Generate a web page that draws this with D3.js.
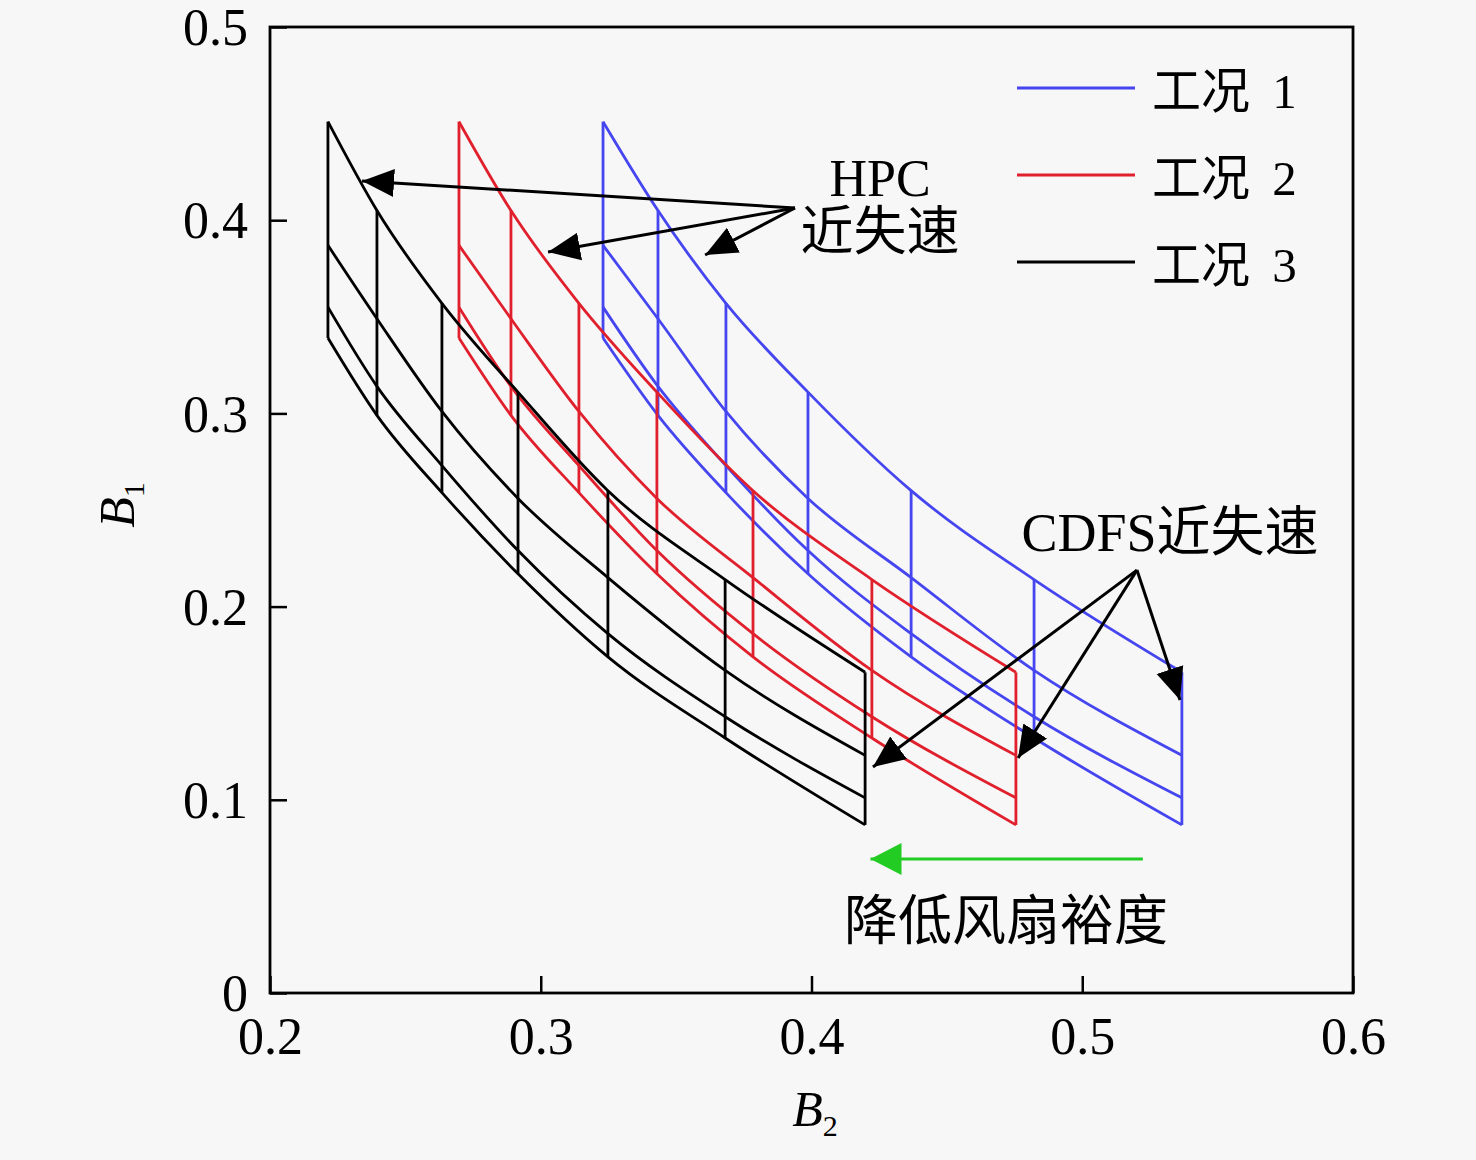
<!DOCTYPE html>
<html>
<head>
<meta charset="utf-8">
<script src="https://cdn.jsdelivr.net/npm/d3@7"></script>
<style>
  body { margin: 0; background: #f7f7f7; }
  svg { display: block; }
</style>
</head>
<body>
<div id="chart"></div>
<script>
// B2 positions of the constant lines, one array per operating condition
const b2Case1 = [0.3230, 0.3433, 0.3684, 0.3987, 0.4368, 0.4822, 0.5368];
const b2Case2 = [0.2698, 0.2890, 0.3141, 0.3429, 0.3784, 0.4223, 0.4755];
const b2Case3 = [0.2214, 0.2395, 0.2635, 0.2916, 0.3248, 0.3681, 0.4198];

// B1 along each of the four curves (same for all three conditions)
const b1Top    = [0.451, 0.405, 0.357, 0.311, 0.260, 0.214, 0.166];
const b1Second = [0.387, 0.349, 0.301, 0.256, 0.215, 0.167, 0.123];
const b1Third  = [0.355, 0.314, 0.273, 0.229, 0.186, 0.143, 0.101];
const b1Bottom = [0.339, 0.299, 0.259, 0.217, 0.174, 0.132, 0.087];

const caseNames = ["工况 1", "工况 2", "工况 3"];
const caseColors = ["#4646f0", "#e0202c", "#000000"];

const xTicks = [0.2, 0.3, 0.4, 0.5, 0.6];
const yTicks = [0, 0.1, 0.2, 0.3, 0.4, 0.5];

// annotation arrows in data units: [from B2, from B1, to B2, to B1]
const hpcArrows = [
  [0.3939, 0.4063, 0.2340, 0.4203],
  [0.3939, 0.4063, 0.3027, 0.3835],
  [0.3939, 0.4063, 0.3607, 0.3820]
];
const cdfsArrows = [
  [0.5202, 0.2189, 0.4227, 0.1170],
  [0.5202, 0.2189, 0.4763, 0.1216],
  [0.5202, 0.2189, 0.5361, 0.1517]
];
const fanArrow = [0.5224, 0.0694, 0.4218, 0.0694];

var width = 1476, height = 1160;
var plotLeft = 270, plotRight = 1353, plotTop = 27, plotBottom = 993;

var svg = d3.select("#chart").append("svg")
  .attr("width", width)
  .attr("height", height);

var x = d3.scaleLinear().domain([0.2, 0.6]).range([plotLeft, plotRight]);
var y = d3.scaleLinear().domain([0, 0.5]).range([plotBottom, plotTop]);

var serif = "'Liberation Serif', 'Times New Roman', 'Noto Sans CJK SC', serif";

var defs = svg.append("defs");
defs.append("marker")
  .attr("id", "head")
  .attr("markerUnits", "userSpaceOnUse")
  .attr("markerWidth", 34).attr("markerHeight", 30)
  .attr("refX", 32).attr("refY", 15)
  .attr("orient", "auto")
  .append("path").attr("d", "M0,1 L32,15 L0,29 Z").attr("fill", "#000");
defs.append("marker")
  .attr("id", "greenhead")
  .attr("markerUnits", "userSpaceOnUse")
  .attr("markerWidth", 34).attr("markerHeight", 34)
  .attr("refX", 31).attr("refY", 16)
  .attr("orient", "auto")
  .append("path").attr("d", "M0,0 L31,16 L0,32 Z").attr("fill", "#22cc22");

// grids: blue first, black on top
var cases = [b2Case1, b2Case2, b2Case3];
var curves = [b1Top, b1Second, b1Third, b1Bottom];
var line = d3.line().x(d => x(d[0])).y(d => y(d[1])).curve(d3.curveMonotoneX);

cases.forEach(function(b2, c) {
  var g = svg.append("g")
    .attr("fill", "none")
    .attr("stroke", caseColors[c])
    .attr("stroke-width", 2.8);

  g.selectAll("path.curve")
    .data(curves)
    .enter()
    .append("path")
    .attr("class", "curve")
    .attr("d", b1 => line(b2.map((v, i) => [v, b1[i]])));

  g.selectAll("line.const")
    .data(b2)
    .enter()
    .append("line")
    .attr("class", "const")
    .attr("x1", d => x(d)).attr("x2", d => x(d))
    .attr("y1", (d, i) => y(b1Top[i]))
    .attr("y2", (d, i) => y(b1Bottom[i]));
});

// frame and inward ticks
svg.append("rect")
  .attr("x", plotLeft).attr("y", plotTop)
  .attr("width", plotRight - plotLeft).attr("height", plotBottom - plotTop)
  .attr("fill", "none").attr("stroke", "#000").attr("stroke-width", 2.8);

svg.append("g")
  .attr("transform", "translate(0," + plotBottom + ")")
  .call(d3.axisBottom(x).tickValues(xTicks).tickSizeInner(-17).tickSizeOuter(0).tickPadding(24).tickFormat(d3.format(".1f")))
  .call(g => g.select(".domain").remove())
  .call(g => g.selectAll("line").attr("stroke-width", 2.5))
  .call(g => g.selectAll("text").attr("font-family", serif).attr("font-size", 52).attr("fill", "#000").attr("dy", "0.71em"));

svg.append("g")
  .attr("transform", "translate(" + plotLeft + ",0)")
  .call(d3.axisLeft(y).tickValues(yTicks).tickSizeInner(-17).tickSizeOuter(0).tickPadding(22).tickFormat(d => d === 0 ? "0" : d3.format(".1f")(d)))
  .call(g => g.select(".domain").remove())
  .call(g => g.selectAll("line").attr("stroke-width", 2.5))
  .call(g => g.selectAll("text").attr("font-family", serif).attr("font-size", 52).attr("fill", "#000").attr("dy", "0.34em"));

// axis titles
var xt = svg.append("text")
  .attr("x", 815).attr("y", 1126)
  .attr("text-anchor", "middle")
  .attr("font-family", serif).attr("font-size", 50);
xt.append("tspan").attr("font-style", "italic").text("B");
xt.append("tspan").attr("font-size", 30).attr("dy", 10).text("2");

var yt = svg.append("text")
  .attr("transform", "translate(134,505) rotate(-90)")
  .attr("text-anchor", "middle")
  .attr("font-family", serif).attr("font-size", 50);
yt.append("tspan").attr("font-style", "italic").text("B");
yt.append("tspan").attr("font-size", 30).attr("dy", 10).text("1");

// legend
var legend = svg.append("g");
caseNames.forEach(function(name, i) {
  var ly = 88 + i * 87;
  legend.append("line")
    .attr("x1", 1017).attr("x2", 1135)
    .attr("y1", ly).attr("y2", ly)
    .attr("stroke", caseColors[i]).attr("stroke-width", 3);
  legend.append("text")
    .attr("x", 1152).attr("y", ly + 20)
    .attr("font-family", serif).attr("font-size", 49)
    .attr("word-spacing", 10)
    .text(name);
});

// annotations
function arrows(data, marker, color) {
  svg.append("g").selectAll("line")
    .data(data)
    .enter()
    .append("line")
    .attr("x1", d => x(d[0])).attr("y1", d => y(d[1]))
    .attr("x2", d => x(d[2])).attr("y2", d => y(d[3]))
    .attr("stroke", color).attr("stroke-width", 3)
    .attr("marker-end", "url(#" + marker + ")");
}
arrows(hpcArrows, "head", "#000");
arrows(cdfsArrows, "head", "#000");
arrows([fanArrow], "greenhead", "#22cc22");

svg.append("text")
  .attr("x", 880).attr("y", 196)
  .attr("text-anchor", "middle")
  .attr("font-family", serif).attr("font-size", 52)
  .text("HPC");
svg.append("text")
  .attr("x", 880).attr("y", 250)
  .attr("text-anchor", "middle")
  .attr("font-family", serif).attr("font-size", 53)
  .text("近失速");
svg.append("text")
  .attr("x", 1170).attr("y", 551)
  .attr("text-anchor", "middle")
  .attr("font-family", serif).attr("font-size", 54)
  .text("CDFS近失速");
svg.append("text")
  .attr("x", 1006).attr("y", 940)
  .attr("text-anchor", "middle")
  .attr("font-family", serif).attr("font-size", 54)
  .text("降低风扇裕度");
</script>
</body>
</html>
